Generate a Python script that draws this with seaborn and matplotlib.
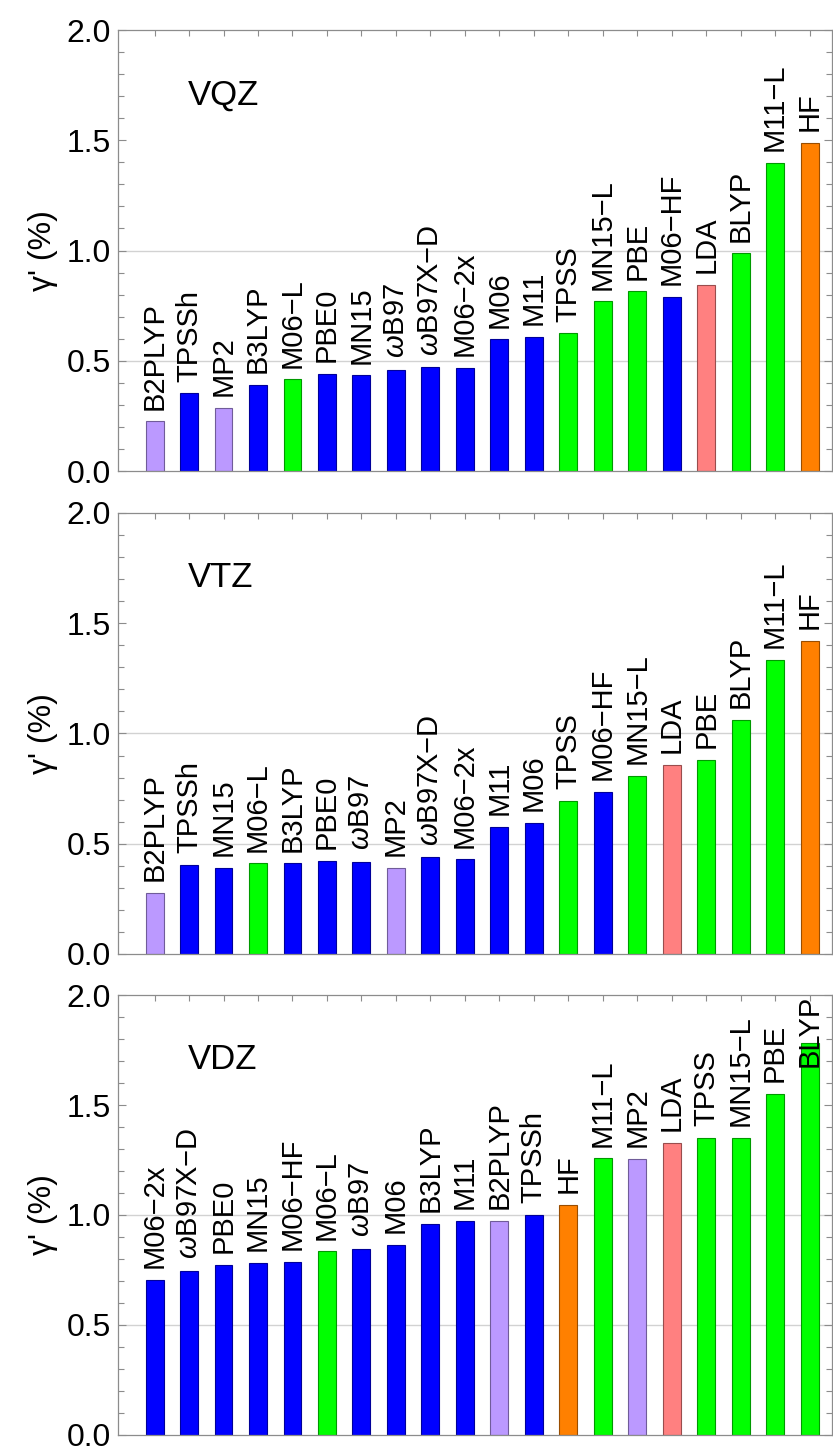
import numpy as np
import pandas as pd
import matplotlib
matplotlib.use("Agg")
import matplotlib.pyplot as plt
import matplotlib.colors as mcolors
from matplotlib.ticker import MultipleLocator, FormatStrFormatter
import seaborn as sns

# ---- data -------------------------------------------------------------
vqz_methods = ["B2PLYP", "TPSSh", "MP2", "B3LYP", "M06−L", "PBE0", "MN15", "ωB97",
               "ωB97X−D", "M06−2x", "M06", "M11", "TPSS", "MN15−L", "PBE", "M06−HF",
               "LDA", "BLYP", "M11−L", "HF"]
vqz_values = [0.225, 0.352, 0.287, 0.392, 0.416, 0.441, 0.434, 0.457, 0.470, 0.467,
              0.597, 0.608, 0.624, 0.769, 0.815, 0.788, 0.845, 0.987, 1.397, 1.489]

vtz_methods = ["B2PLYP", "TPSSh", "MN15", "M06−L", "B3LYP", "PBE0", "ωB97", "MP2",
               "ωB97X−D", "M06−2x", "M11", "M06", "TPSS", "M06−HF", "MN15−L", "LDA",
               "PBE", "BLYP", "M11−L", "HF"]
vtz_values = [0.278, 0.405, 0.392, 0.411, 0.411, 0.423, 0.419, 0.390, 0.438, 0.429,
              0.577, 0.593, 0.695, 0.735, 0.807, 0.857, 0.881, 1.060, 1.335, 1.419]

vdz_methods = ["M06−2x", "ωB97X−D", "PBE0", "MN15", "M06−HF", "M06−L", "ωB97", "M06",
               "B3LYP", "M11", "B2PLYP", "TPSSh", "HF", "M11−L", "MP2", "LDA", "TPSS",
               "MN15−L", "PBE", "BLYP"]
vdz_values = [0.705, 0.747, 0.773, 0.782, 0.785, 0.834, 0.845, 0.863, 0.958, 0.973,
              0.974, 1.001, 1.045, 1.257, 1.254, 1.328, 1.349, 1.349, 1.550, 1.783]

basis_names = ["VQZ", "VTZ", "VDZ"]

# method family of each functional
family = {
    "B2PLYP": "wavefunction", "MP2": "wavefunction",
    "TPSSh": "hybrid", "B3LYP": "hybrid", "PBE0": "hybrid", "MN15": "hybrid",
    "ωB97": "hybrid", "ωB97X−D": "hybrid", "M06−2x": "hybrid", "M06": "hybrid",
    "M11": "hybrid", "M06−HF": "hybrid",
    "M06−L": "semilocal", "TPSS": "semilocal", "MN15−L": "semilocal",
    "PBE": "semilocal", "BLYP": "semilocal", "M11−L": "semilocal",
    "LDA": "lda", "HF": "hf",
}
family_colors = {
    "wavefunction": "#BB99FF",
    "hybrid": "#0000FF",
    "semilocal": "#00FF00",
    "lda": "#FF8080",
    "hf": "#FF8000",
}

# ---- style ------------------------------------------------------------
sns.set_style("white")
plt.rcParams["font.family"] = ["Liberation Sans", "DejaVu Sans"]
plt.rcParams["mathtext.fontset"] = "custom"
plt.rcParams["mathtext.rm"] = "Liberation Sans"
plt.rcParams["mathtext.it"] = "Liberation Sans:italic"
plt.rcParams["axes.unicode_minus"] = True
plt.rcParams["text.color"] = "black"
plt.rcParams["axes.labelcolor"] = "black"
plt.rcParams["ytick.labelcolor"] = "black"

SPINE = "#8c8c8c"


def pretty(name):
    return name.replace("ω", r"$\omega$")


def darker(color, f=0.6):
    r, g, b = mcolors.to_rgb(color)
    return (r * f, g * f, b * f)


fig = plt.figure(figsize=(8.33, 14.52), dpi=100)
left, right = 0.1417, 0.9988
panel_tops = [0.9793, 0.6467, 0.3147]
panel_bots = [0.6756, 0.3430, 0.0118]

panels = [(vqz_methods, vqz_values), (vtz_methods, vtz_values), (vdz_methods, vdz_values)]
for k, (methods, values) in enumerate(panels):
    ax = fig.add_axes([left, panel_bots[k], right - left, panel_tops[k] - panel_bots[k]])
    df = pd.DataFrame({"method": methods, "value": values})
    palette = {m: family_colors[family[m]] for m in methods}
    sns.barplot(data=df, x="method", y="value", hue="method", order=methods,
                hue_order=methods, palette=palette, width=0.52, saturation=1,
                legend=False, ax=ax, zorder=2)
    for p in ax.patches:
        p.set_edgecolor(darker(p.get_facecolor()))
        p.set_linewidth(0.8)

    # reference lines
    for yv in (0.5, 1.0):
        ax.axhline(yv, color="#d2d2d2", lw=1.0, zorder=0)

    ax.set_ylim(0, 2.0)
    ax.set_xlim(-1.06, len(methods) - 1 + 0.65)
    ax.yaxis.set_major_locator(MultipleLocator(0.5))
    ax.yaxis.set_minor_locator(MultipleLocator(0.1))
    ax.yaxis.set_major_formatter(FormatStrFormatter("%.1f"))
    ax.tick_params(axis="y", which="both", direction="in", left=True, right=True,
                   color=SPINE, labelcolor="black", labelsize=23, pad=5, width=0.8)
    ax.tick_params(axis="y", which="major", length=6)
    ax.tick_params(axis="y", which="minor", length=4)
    ax.tick_params(axis="x", which="major", direction="in", top=True, bottom=True,
                   length=4, color=SPINE, width=0.8, labelbottom=False)
    ax.set_xlabel("")
    ax.set_ylabel("γ' (%)", fontsize=23, labelpad=6, color="black")
    for s in ax.spines.values():
        s.set_color(SPINE)
        s.set_linewidth(0.9)

    ax.text(0.098, 0.89, basis_names[k], transform=ax.transAxes, fontsize=25,
            ha="left", va="top", color="black")

    texts = []
    for i, (m, v) in enumerate(zip(methods, values)):
        t = ax.annotate(pretty(m), (i, v), xytext=(0, 8.5), textcoords="offset points",
                        rotation=90, ha="center", va="bottom", fontsize=21,
                        color="black", annotation_clip=False, zorder=3)
        texts.append((t, i))

    # keep labels that would run past the top of the frame inside it
    fig.canvas.draw()
    ax_top = ax.get_window_extent().y1
    for t, i in texts:
        if t.get_window_extent().y1 > ax_top + 1:
            t.xy = (i, ax.get_ylim()[1])
            t.set_position((0, 0))
            t.set_va("top")

fig.savefig("out.png", dpi=100)
